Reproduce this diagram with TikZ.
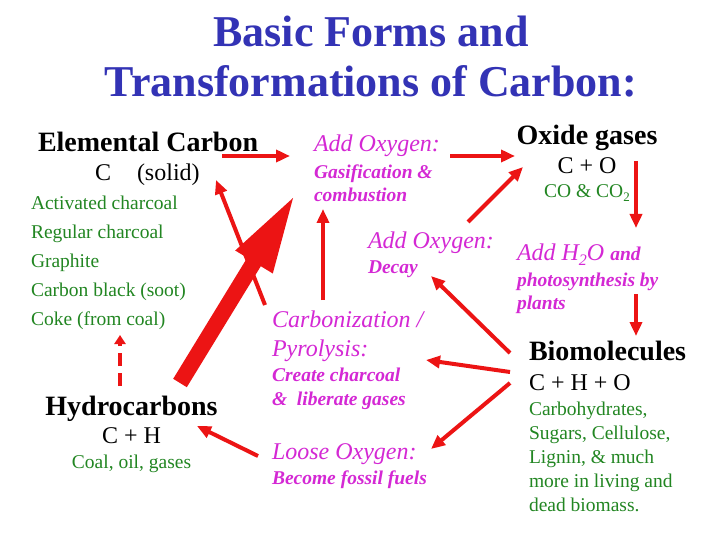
\documentclass[tikz,border=0pt]{standalone}
\usepackage{fontspec}
\setmainfont{Liberation Serif}
\usetikzlibrary{arrows.meta}
\definecolor{cblue}{RGB}{51,51,181}
\definecolor{cgreen}{RGB}{34,134,34}
\definecolor{cmag}{RGB}{212,40,212}
\definecolor{cred}{RGB}{236,20,20}
\tikzset{
  txt/.style={anchor=base west, inner sep=0pt, outer sep=0pt},
  ctxt/.style={anchor=base, inner sep=0pt, outer sep=0pt},
  ttlfont/.style={text=cblue, font=\fontsize{44}{44}\selectfont\bfseries},
  hdg/.style={font=\fontsize{28}{28}\selectfont\bfseries},
  chem/.style={font=\fontsize{24}{24}\selectfont},
  gtxt/.style={text=cgreen, font=\fontsize{19.5}{19.5}\selectfont},
  proc/.style={text=cmag, font=\fontsize{24}{24}\selectfont\itshape},
  procsub/.style={text=cmag, font=\fontsize{19.5}{19.5}\selectfont\bfseries\itshape},
  arr/.style={draw=cred, line width=4pt, -{Triangle[length=14pt,width=12pt]}},
}
\begin{document}
\begin{tikzpicture}[x=1pt,y=-1pt]
\useasboundingbox[fill=white] (0,0) rectangle (720,540);

% Title
\node[ctxt, ttlfont] (t1) at (371,47) {Basic Forms and};
\node[ctxt, ttlfont] (t2) at (371,97) {Transformations of Carbon:};

% Elemental carbon
\node[txt, hdg] (ec) at (38,152) {Elemental Carbon};
\node[txt, chem] (ecf) at (95,181) {C\hspace{26pt}(solid)};
\node[txt, gtxt] (g1) at (31,210) {Activated charcoal};
\node[txt, gtxt] (g2) at (31,239) {Regular charcoal};
\node[txt, gtxt] (g3) at (31,267) {Graphite};
\node[txt, gtxt] (g4) at (31,296) {Carbon black (soot)};
\node[txt, gtxt] (g5) at (31,325) {Coke (from coal)};

% Hydrocarbons
\node[ctxt, hdg] (hc) at (131.5,415) {Hydrocarbons};
\node[ctxt, chem] (hcf) at (131.5,443) {C + H};
\node[ctxt, gtxt] (hcg) at (131.5,468) {Coal, oil, gases};

% Oxide gases
\node[ctxt, hdg] (ox) at (587,145) {Oxide gases};
\node[ctxt, chem] (oxf) at (587,174) {C + O};
\node[ctxt, gtxt] (oxg) at (587,198) {CO \& CO\raisebox{-3.5pt}{\fontsize{13}{13}\selectfont 2}};

% Biomolecules
\node[txt, hdg] (bm) at (529,360) {Biomolecules};
\node[txt, chem] (bmf) at (529,390) {C + H + O};
\node[txt, gtxt] (b1) at (529,415) {Carbohydrates,};
\node[txt, gtxt] (b2) at (529,439) {Sugars, Cellulose,};
\node[txt, gtxt] (b3) at (529,463) {Lignin, \& much};
\node[txt, gtxt] (b4) at (529,487) {more in living and};
\node[txt, gtxt] (b5) at (529,511) {dead biomass.};

% Processes
\node[txt, proc] (ao1) at (314,152) {Add Oxygen:};
\node[txt, procsub] (gas1) at (314,179) {Gasification \&};
\node[txt, procsub] (gas2) at (314,202) {combustion};

\node[txt, proc] (ao2) at (368,248) {Add Oxygen:};
\node[txt, procsub] (dec) at (368,273) {Decay};

\node[txt, proc] (ah) at (517,260) {Add H\raisebox{-5pt}{\fontsize{16}{16}\selectfont 2}O \fontsize{19.5}{19.5}\selectfont\bfseries and};
\node[txt, procsub] (ps1) at (517,286) {photosynthesis by};
\node[txt, procsub] (ps2) at (517,309) {plants};

\node[txt, proc] (cb1) at (272,327) {Carbonization /};
\node[txt, proc] (cb2) at (272,356) {Pyrolysis:};
\node[txt, procsub] (cb3) at (272,381) {Create charcoal};
\node[txt, procsub] (cb4) at (272,405) {\&\ \ liberate gases};

\node[txt, proc] (lo1) at (272,459) {Loose Oxygen:};
\node[txt, procsub] (lo2) at (272,484) {Become fossil fuels};

% Connector end points
\coordinate (a1s) at (222,156);  \coordinate (a1e) at (290,156);
\coordinate (a2s) at (450,156);  \coordinate (a2e) at (515,156);
\coordinate (a3s) at (265,305);  \coordinate (a3e) at (216,180);
\coordinate (a5s) at (323,300);  \coordinate (a5e) at (323,209);
\coordinate (a6s) at (468,222);  \coordinate (a6e) at (523,167);
\coordinate (a7s) at (636,161);  \coordinate (a7e) at (636,228);
\coordinate (a8s) at (636,294);  \coordinate (a8e) at (636,336);
\coordinate (a9s) at (510,353);  \coordinate (a9e) at (431,276);
\coordinate (a10s) at (510,372); \coordinate (a10e) at (426,360);
\coordinate (a11s) at (510,383); \coordinate (a11e) at (431,449);
\coordinate (a12s) at (258,456); \coordinate (a12e) at (197,426);
\coordinate (a13s) at (120,386); \coordinate (a13e) at (120,335);

% Arrows
\draw[arr] (a1s) -- (a1e);
\draw[arr] (a2s) -- (a2e);
\draw[arr] (a3s) -- (a3e);
\draw[arr] (a5s) -- (a5e);
\draw[arr] (a6s) -- (a6e);
\draw[arr] (a7s) -- (a7e);
\draw[arr] (a8s) -- (a8e);
\draw[arr] (a9s) -- (a9e);
\draw[arr] (a10s) -- (a10e);
\draw[arr] (a11s) -- (a11e);
\draw[arr] (a12s) -- (a12e);
\draw[draw=cred, line width=4pt, dash pattern=on 13pt off 7pt,
      -{Triangle[length=9pt,width=11pt]}] (a13s) -- (a13e);

% Big arrow: hydrocarbons -> elemental carbon
\coordinate (bt) at (293,198);
\fill[cred] (186.8,387.2) -- (173.2,378.8) -- (247.2,257.8) -- (235.2,250.5)
  -- (bt) -- (272.8,273.5) -- (260.8,266.2) -- cycle;
\end{tikzpicture}
\end{document}
